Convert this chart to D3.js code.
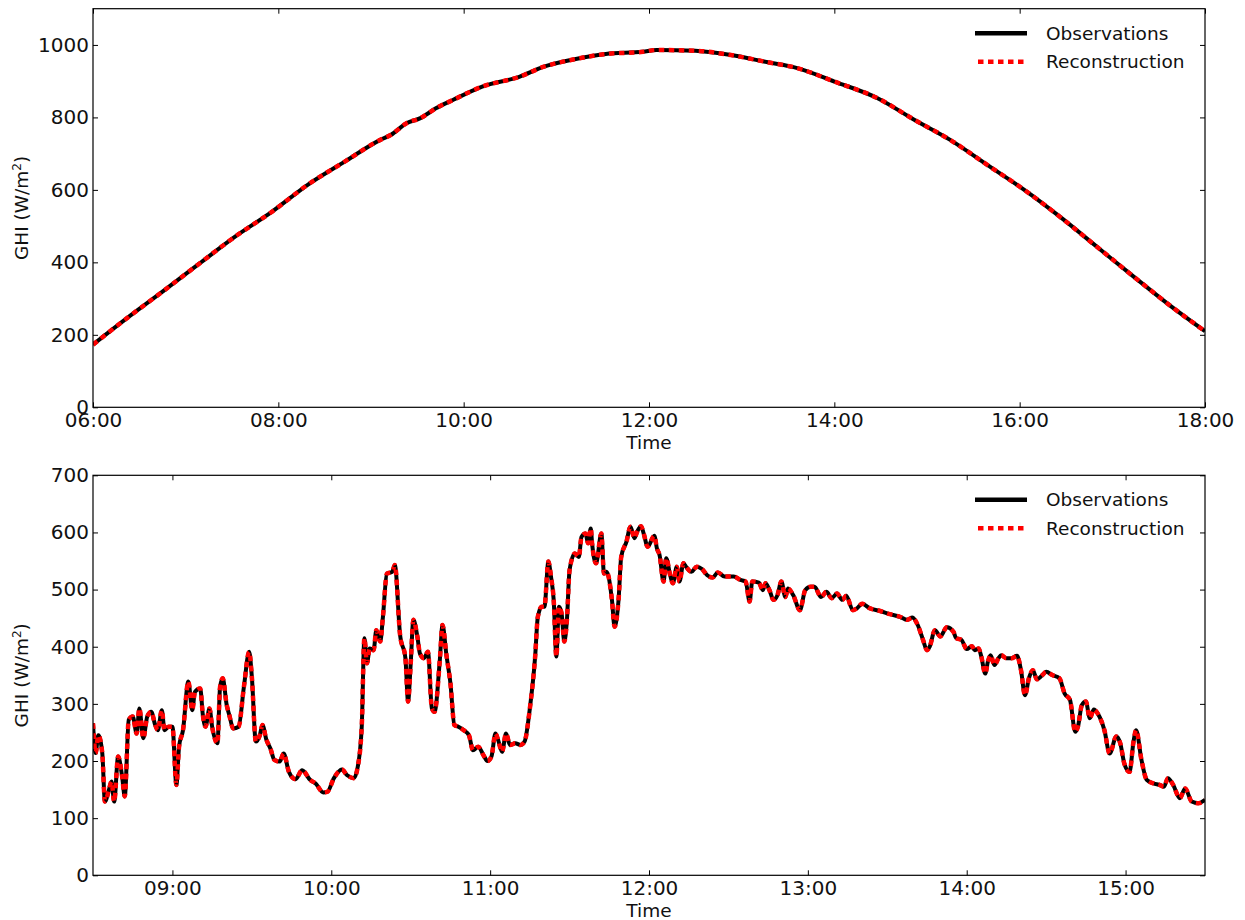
<!DOCTYPE html>
<html>
<head>
<meta charset="utf-8">
<script src="https://cdn.jsdelivr.net/npm/d3@7"></script>
<style>
  body { margin: 0; background: #fff; }
  svg { display: block; font-family: "DejaVu Sans", sans-serif; }
</style>
</head>
<body>
<script>
// top panel: clear-sky day, 06:00 - 18:00
const dayTimes = ["06:00", "06:22", "06:45", "07:09", "07:32", "07:56", "08:19", "08:43", "09:06", "09:13",
  "09:23", "09:32", "09:42", "09:53", "10:12", "10:36", "10:52", "11:11", "11:32", "11:56",
  "12:05", "12:30", "12:53", "13:17", "13:36", "14:00", "14:28", "14:52", "15:15", "15:39",
  "16:03", "16:26", "16:50", "17:14", "17:37", "18:00"]
const dayObs = [173, 246, 319, 397, 471, 540, 614, 678, 738, 752,
  784, 798, 825, 848, 885, 912, 940, 960, 975, 981,
  986, 984, 972, 952, 936, 899, 853, 793, 738, 669,
  600, 526, 443, 360, 282, 210]
// the reconstruction sits right on top of the observations
const dayRecon = [173, 246, 319, 397, 471, 540, 614, 678, 738, 752,
  784, 798, 825, 848, 885, 912, 940, 960, 975, 981,
  986, 984, 972, 952, 936, 899, 853, 793, 738, 669,
  600, 526, 443, 360, 282, 210]

// bottom panel: cloudy day, 08:30 - 15:30
const cloudTimes = ["08:30:00", "08:31:00", "08:32:00", "08:33:30", "08:34:30", "08:36:00", "08:37:00", "08:38:00", "08:39:30", "08:41:00",
  "08:42:00", "08:43:30", "08:45:00", "08:46:30", "08:47:30", "08:49:00", "08:50:30", "08:52:00", "08:53:30", "08:54:30",
  "08:56:00", "08:57:00", "08:58:30", "09:00:00", "09:01:30", "09:02:30", "09:04:00", "09:06:00", "09:07:30", "09:08:30",
  "09:10:30", "09:11:30", "09:12:30", "09:14:00", "09:15:00", "09:17:00", "09:18:00", "09:19:00", "09:20:30", "09:21:30",
  "09:23:00", "09:25:00", "09:27:00", "09:29:00", "09:30:00", "09:31:30", "09:33:00", "09:34:00", "09:35:30", "09:37:00",
  "09:38:30", "09:40:30", "09:42:00", "09:44:00", "09:46:30", "09:49:00", "09:52:00", "09:54:00", "09:57:00", "09:58:30",
  "10:01:00", "10:04:00", "10:06:00", "10:08:30", "10:10:00", "10:11:30", "10:12:30", "10:13:30", "10:14:30", "10:16:00",
  "10:17:00", "10:18:30", "10:19:30", "10:21:00", "10:23:00", "10:24:00", "10:26:00", "10:28:00", "10:29:00", "10:30:00",
  "10:31:00", "10:32:30", "10:33:30", "10:35:00", "10:36:30", "10:38:00", "10:39:00", "10:41:00", "10:42:00", "10:43:30",
  "10:45:00", "10:46:30", "10:48:00", "10:50:00", "10:52:00", "10:53:30", "10:55:30", "10:57:30", "10:59:00", "11:00:30",
  "11:02:00", "11:03:00", "11:04:30", "11:06:00", "11:07:30", "11:09:30", "11:11:30", "11:13:00", "11:15:00", "11:17:00",
  "11:18:00", "11:19:30", "11:20:30", "11:22:00", "11:23:00", "11:24:00", "11:25:00", "11:26:00", "11:27:00", "11:28:00",
  "11:29:00", "11:30:00", "11:32:00", "11:33:30", "11:34:30", "11:36:00", "11:37:00", "11:38:00", "11:38:30", "11:40:00",
  "11:42:00", "11:43:00", "11:44:00", "11:46:00", "11:47:00", "11:48:30", "11:49:30", "11:51:30", "11:53:00", "11:54:30",
  "11:55:30", "11:57:00", "11:58:00", "11:59:30", "12:02:00", "12:03:00", "12:04:00", "12:05:30", "12:06:30", "12:08:00",
  "12:09:00", "12:10:30", "12:11:30", "12:13:00", "12:14:00", "12:16:00", "12:18:00", "12:20:00", "12:22:00", "12:24:00",
  "12:26:00", "12:28:30", "12:32:00", "12:34:30", "12:36:30", "12:38:00", "12:39:00", "12:41:30", "12:43:00", "12:44:00",
  "12:45:30", "12:47:00", "12:48:30", "12:50:00", "12:51:30", "12:52:30", "12:54:30", "12:57:00", "12:59:00", "13:01:00",
  "13:02:30", "13:05:00", "13:07:00", "13:09:00", "13:11:00", "13:13:00", "13:14:30", "13:17:00", "13:18:30", "13:20:30",
  "13:23:30", "13:27:00", "13:31:00", "13:35:00", "13:37:30", "13:39:30", "13:41:30", "13:43:30", "13:45:00", "13:46:00",
  "13:48:00", "13:50:00", "13:52:30", "13:55:00", "13:56:00", "13:58:00", "14:00:00", "14:02:00", "14:03:00", "14:04:30",
  "14:05:30", "14:07:00", "14:08:00", "14:09:00", "14:10:30", "14:12:00", "14:13:00", "14:15:00", "14:17:00", "14:19:00",
  "14:20:30", "14:22:00", "14:23:30", "14:25:00", "14:26:30", "14:28:30", "14:30:00", "14:32:30", "14:35:00", "14:37:00",
  "14:39:00", "14:41:00", "14:42:00", "14:43:30", "14:45:00", "14:46:30", "14:48:00", "14:49:30", "14:52:00", "14:54:00",
  "14:56:30", "14:58:00", "14:59:30", "15:01:30", "15:03:00", "15:04:00", "15:06:00", "15:08:00", "15:10:30", "15:13:00",
  "15:14:30", "15:16:00", "15:18:00", "15:20:30", "15:22:30", "15:25:00", "15:27:30", "15:30:00"]
const cloudObs = [266, 214, 245, 214, 129, 149, 164, 129, 208, 173,
  138, 272, 278, 248, 292, 240, 278, 286, 263, 254,
  289, 254, 260, 260, 158, 225, 254, 339, 289, 321,
  327, 280, 260, 292, 260, 231, 330, 345, 298, 280,
  257, 260, 330, 391, 347, 234, 245, 263, 237, 222,
  202, 199, 213, 181, 168, 184, 167, 161, 145, 146,
  170, 185, 175, 170, 190, 260, 415, 371, 397, 394,
  429, 409, 452, 528, 531, 543, 420, 380, 304, 371,
  447, 418, 388, 380, 391, 292, 286, 377, 438, 385,
  336, 263, 260, 254, 245, 219, 225, 210, 200, 208,
  248, 237, 216, 248, 228, 231, 228, 234, 292, 383,
  452, 470, 470, 549, 522, 482, 383, 470, 458, 409,
  447, 534, 563, 557, 592, 598, 581, 607, 581, 546,
  598, 528, 531, 482, 435, 482, 557, 584, 610, 590,
  601, 611, 598, 575, 594, 572, 560, 514, 555, 525,
  511, 540, 514, 546, 540, 531, 540, 536, 525, 521,
  530, 523, 523, 517, 514, 479, 514, 512, 499, 511,
  499, 482, 490, 514, 487, 502, 490, 464, 499, 505,
  505, 487, 496, 485, 493, 482, 489, 464, 467, 475,
  467, 463, 457, 452, 447, 451, 438, 412, 394, 400,
  429, 418, 434, 426, 415, 412, 396, 401, 394, 397,
  383, 353, 374, 385, 368, 380, 385, 380, 380, 384,
  359, 315, 345, 359, 343, 350, 356, 350, 345, 318,
  307, 251, 260, 298, 304, 275, 290, 283, 254, 213,
  243, 231, 196, 181, 234, 254, 202, 167, 161, 158,
  155, 170, 158, 135, 152, 129, 126, 132]
const cloudRecon = cloudObs.slice() // same trace

const dayXTicks = ["06:00", "08:00", "10:00", "12:00", "14:00", "16:00", "18:00"]
const dayYTicks = [0, 200, 400, 600, 800, 1000]
const cloudXTicks = ["09:00", "10:00", "11:00", "12:00", "13:00", "14:00", "15:00"]
const cloudYTicks = [0, 100, 200, 300, 400, 500, 600, 700]
const seriesNames = ["Observations", "Reconstruction"]

const width = 1245
const height = 920
const marginLeft = 93
const marginRight = 40 // right edge of the axes sits at 1205
const tickLen = 5
const fontFamily = "'DejaVu Sans', sans-serif"

const parseHM = d3.timeParse("%H:%M")
const parseHMS = d3.timeParse("%H:%M:%S")

const svg = d3.select("body").append("svg")
  .attr("width", width)
  .attr("height", height)
  .attr("viewBox", [0, 0, width, height])

function panel({times, obs, recon, parse, xStart, xEnd, xTicks, yMax, yTicks, top, bottom, id}) {

  const x = d3.scaleTime()
    .domain([parse(xStart), parse(xEnd)])
    .range([marginLeft, width - marginRight])
  const y = d3.scaleLinear()
    .domain([0, yMax])
    .range([bottom, top])

  const obsData = times.map((t, i) => ({t: parse(t), v: obs[i]}))
  const recData = times.map((t, i) => ({t: parse(t), v: recon[i]}))
  const tickDates = xTicks.map(d => parseHM(d))

  const g = svg.append("g")

  g.append("clipPath")
    .attr("id", id)
    .append("rect")
    .attr("x", marginLeft)
    .attr("y", top)
    .attr("width", width - marginRight - marginLeft)
    .attr("height", bottom - top)

  const line = d3.line()
    .x(d => x(d.t))
    .y(d => y(d.v))
    .curve(d3.curveMonotoneX)

  g.append("path")
    .datum(obsData)
    .attr("clip-path", `url(#${id})`)
    .attr("fill", "none")
    .attr("stroke", "black")
    .attr("stroke-width", 4)
    .attr("stroke-linejoin", "round")
    .attr("d", line)

  g.append("path")
    .datum(recData)
    .attr("clip-path", `url(#${id})`)
    .attr("fill", "none")
    .attr("stroke", "red")
    .attr("stroke-width", 4.5)
    .attr("stroke-dasharray", "5.5,4.5")
    .attr("d", line)

  // ticks point inward on all four sides, labels only bottom/left
  g.append("g")
    .attr("transform", `translate(0,${bottom})`)
    .call(d3.axisBottom(x).tickValues(tickDates).tickFormat(d3.timeFormat("%H:%M"))
      .tickSizeInner(-tickLen).tickSizeOuter(0).tickPadding(6))
    .attr("font-family", fontFamily)
    .call(a => a.select(".domain").remove())
    .call(a => a.selectAll("text").attr("font-size", 20).attr("fill", "#111"))

  g.append("g")
    .attr("transform", `translate(0,${top})`)
    .call(d3.axisTop(x).tickValues(tickDates).tickFormat("")
      .tickSizeInner(-tickLen).tickSizeOuter(0))
    .call(a => a.select(".domain").remove())

  g.append("g")
    .attr("transform", `translate(${marginLeft},0)`)
    .call(d3.axisLeft(y).tickValues(yTicks).tickFormat(d3.format("d"))
      .tickSizeInner(-tickLen).tickSizeOuter(0).tickPadding(4))
    .attr("font-family", fontFamily)
    .call(a => a.select(".domain").remove())
    .call(a => a.selectAll("text").attr("font-size", 20).attr("fill", "#111"))

  g.append("g")
    .attr("transform", `translate(${width - marginRight},0)`)
    .call(d3.axisRight(y).tickValues(yTicks).tickFormat("")
      .tickSizeInner(-tickLen).tickSizeOuter(0))
    .call(a => a.select(".domain").remove())

  g.append("rect")
    .attr("x", marginLeft)
    .attr("y", top)
    .attr("width", width - marginRight - marginLeft)
    .attr("height", bottom - top)
    .attr("fill", "none")
    .attr("stroke", "black")
    .attr("stroke-width", 1.2)

  g.append("text")
    .attr("x", (marginLeft + width - marginRight) / 2)
    .attr("y", bottom + 42)
    .attr("text-anchor", "middle")
    .attr("font-size", 18.5)
    .attr("fill", "#111")
    .text("Time")

  const ylab = g.append("text")
    .attr("transform", `translate(28,${(top + bottom) / 2}) rotate(-90)`)
    .attr("text-anchor", "middle")
    .attr("font-size", 18.5)
    .attr("fill", "#111")
  ylab.append("tspan").text("GHI (W/m")
  ylab.append("tspan").attr("font-size", 12).attr("dy", -7).text("2")
  ylab.append("tspan").attr("dy", 7).text(")")

  // legend
  const leg = g.append("g")
    .attr("transform", `translate(975,${top + 24.5})`)

  leg.append("line")
    .attr("x1", 0).attr("x2", 52)
    .attr("y1", 0).attr("y2", 0)
    .attr("stroke", "black")
    .attr("stroke-width", 4.5)

  leg.append("line")
    .attr("x1", 3).attr("x2", 52)
    .attr("y1", 28.5).attr("y2", 28.5)
    .attr("stroke", "red")
    .attr("stroke-width", 4.5)
    .attr("stroke-dasharray", "5.5,4.5")

  leg.selectAll(".lab")
    .data(seriesNames)
    .join("text")
    .attr("class", "lab")
    .attr("x", 71)
    .attr("y", (d, i) => i * 28.5)
    .attr("dy", "0.35em")
    .attr("font-size", 18.5)
    .attr("fill", "#111")
    .text(d => d)
}

panel({
  times: dayTimes, obs: dayObs, recon: dayRecon, parse: parseHM,
  xStart: "06:00", xEnd: "18:00", xTicks: dayXTicks,
  yMax: 1100, yTicks: dayYTicks, top: 8.7, bottom: 407.3, id: "clip-day"
})

panel({
  times: cloudTimes, obs: cloudObs, recon: cloudRecon, parse: parseHMS,
  xStart: "08:30:00", xEnd: "15:30:00", xTicks: cloudXTicks,
  yMax: 700, yTicks: cloudYTicks, top: 475.3, bottom: 875.3, id: "clip-cloud"
})
</script>
</body>
</html>
